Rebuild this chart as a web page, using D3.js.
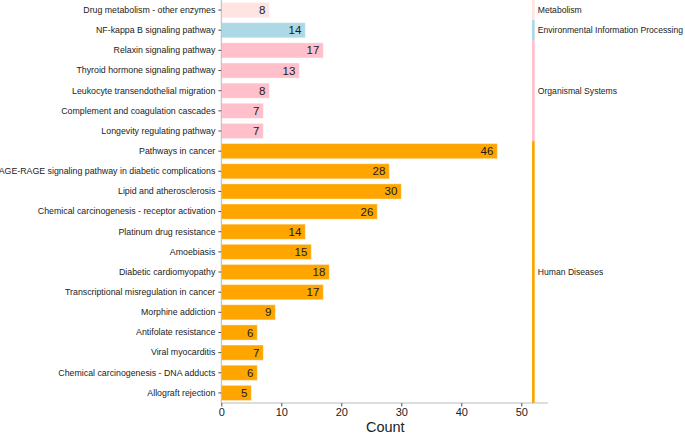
<!DOCTYPE html>
<html><head><meta charset="utf-8">
<script src="https://cdn.jsdelivr.net/npm/d3@7"></script>
<style>body{margin:0;background:#fff;}svg{display:block;font-family:"Liberation Sans",Arial,sans-serif;}</style>
</head><body><svg id="c" width="685" height="433"></svg>
<script>
const categories = ["Drug metabolism - other enzymes","NF-kappa B signaling pathway","Relaxin signaling pathway","Thyroid hormone signaling pathway","Leukocyte transendothelial migration","Complement and coagulation cascades","Longevity regulating pathway","Pathways in cancer","AGE-RAGE signaling pathway in diabetic complications","Lipid and atherosclerosis","Chemical carcinogenesis - receptor activation","Platinum drug resistance","Amoebiasis","Diabetic cardiomyopathy","Transcriptional misregulation in cancer","Morphine addiction","Antifolate resistance","Viral myocarditis","Chemical carcinogenesis - DNA adducts","Allograft rejection"];
const counts = [8,14,17,13,8,7,7,46,28,30,26,14,15,18,17,9,6,7,6,5];
const groups = ["Metabolism","Environmental Information Processing","Organismal Systems","Organismal Systems","Organismal Systems","Organismal Systems","Organismal Systems","Human Diseases","Human Diseases","Human Diseases","Human Diseases","Human Diseases","Human Diseases","Human Diseases","Human Diseases","Human Diseases","Human Diseases","Human Diseases","Human Diseases","Human Diseases"];
const groupNames = ["Metabolism","Environmental Information Processing","Organismal Systems","Human Diseases"];
const groupColors = ["#FFE4E1","#ADD8E6","#FFC0CB","#FFA500"];
const xTicks = [0,10,20,30,40,50];
const stripValue = 52;

const svg = d3.select("#c");
const mLeft = 221.3, mRight = 548, mTop = 0, mBottom = 403;
const x = d3.scaleLinear().domain([0, 54.45]).range([mLeft, mRight]);
const y = d3.scaleBand().domain(categories).range([mTop, mBottom]).paddingInner(0.25).paddingOuter(0.125);
const yStrip = d3.scaleBand().domain(categories).range([mTop, mBottom]);
const color = d3.scaleOrdinal().domain(groupNames).range(groupColors);

// bars
svg.append("g").selectAll("rect").data(categories).join("rect")
  .attr("x", x(0)).attr("y", d => y(d))
  .attr("width", (d,i) => x(counts[i]) - x(0))
  .attr("height", y.bandwidth())
  .attr("fill", (d,i) => color(groups[i]))
  .attr("stroke", "#fff").attr("stroke-opacity", 0.35).attr("stroke-width", 1);

// value labels
svg.append("g").selectAll("text").data(categories).join("text")
  .attr("x", (d,i) => x(counts[i]) - 4)
  .attr("y", d => y(d) + y.bandwidth()/2)
  .attr("dy", "0.35em").attr("text-anchor", "end")
  .attr("font-size", 11.5).attr("fill", "#1a1a1a")
  .text((d,i) => counts[i]);

// strips
const segs = groupNames.map(g => {
  const idx = categories.map((c,i)=>i).filter(i => groups[i] === g);
  return {g, y0: yStrip(categories[idx[0]]), y1: yStrip(categories[idx[idx.length-1]]) + yStrip.bandwidth()};
});
svg.append("g").selectAll("rect").data(segs).join("rect")
  .attr("x", x(stripValue) - 1.3).attr("width", 2.7)
  .attr("y", d => d.y0).attr("height", d => d.y1 - d.y0)
  .attr("fill", d => color(d.g));
svg.append("g").selectAll("text").data(segs).join("text")
  .attr("x", x(stripValue) + 4.5)
  .attr("y", d => (d.y0 + d.y1)/2)
  .attr("dy", "0.35em").attr("font-size", 8.6).attr("fill", "#222")
  .text(d => d.g);

// axes
const xAxis = svg.append("g").attr("transform", `translate(0,${mBottom})`)
  .call(d3.axisBottom(x).tickValues(xTicks).tickSize(3.5).tickPadding(1.5));
xAxis.select(".domain").attr("stroke", "#bbb").attr("d", `M${mLeft},0H${mRight}`);
xAxis.selectAll(".tick line").attr("stroke", "#555");
xAxis.selectAll(".tick text").attr("font-size", 11).attr("fill", "#222").attr("font-family", "Liberation Sans, Arial, sans-serif");

const yAxis = svg.append("g").attr("transform", `translate(${mLeft},0)`)
  .call(d3.axisLeft(y).tickSize(3).tickPadding(3));
yAxis.select(".domain").attr("stroke", "#bbb").attr("d", `M0,${mTop}V${mBottom}`);
yAxis.selectAll(".tick line").attr("stroke", "#555");
yAxis.selectAll(".tick text").attr("font-size", 8.8).attr("fill", "#222").attr("font-family", "Liberation Sans, Arial, sans-serif");

svg.append("text").attr("x", (x(0)+x(50))/2 + 14).attr("y", 431.5).attr("text-anchor", "middle")
  .attr("font-size", 14.5).attr("fill", "#222").text("Count");
</script></body></html>
